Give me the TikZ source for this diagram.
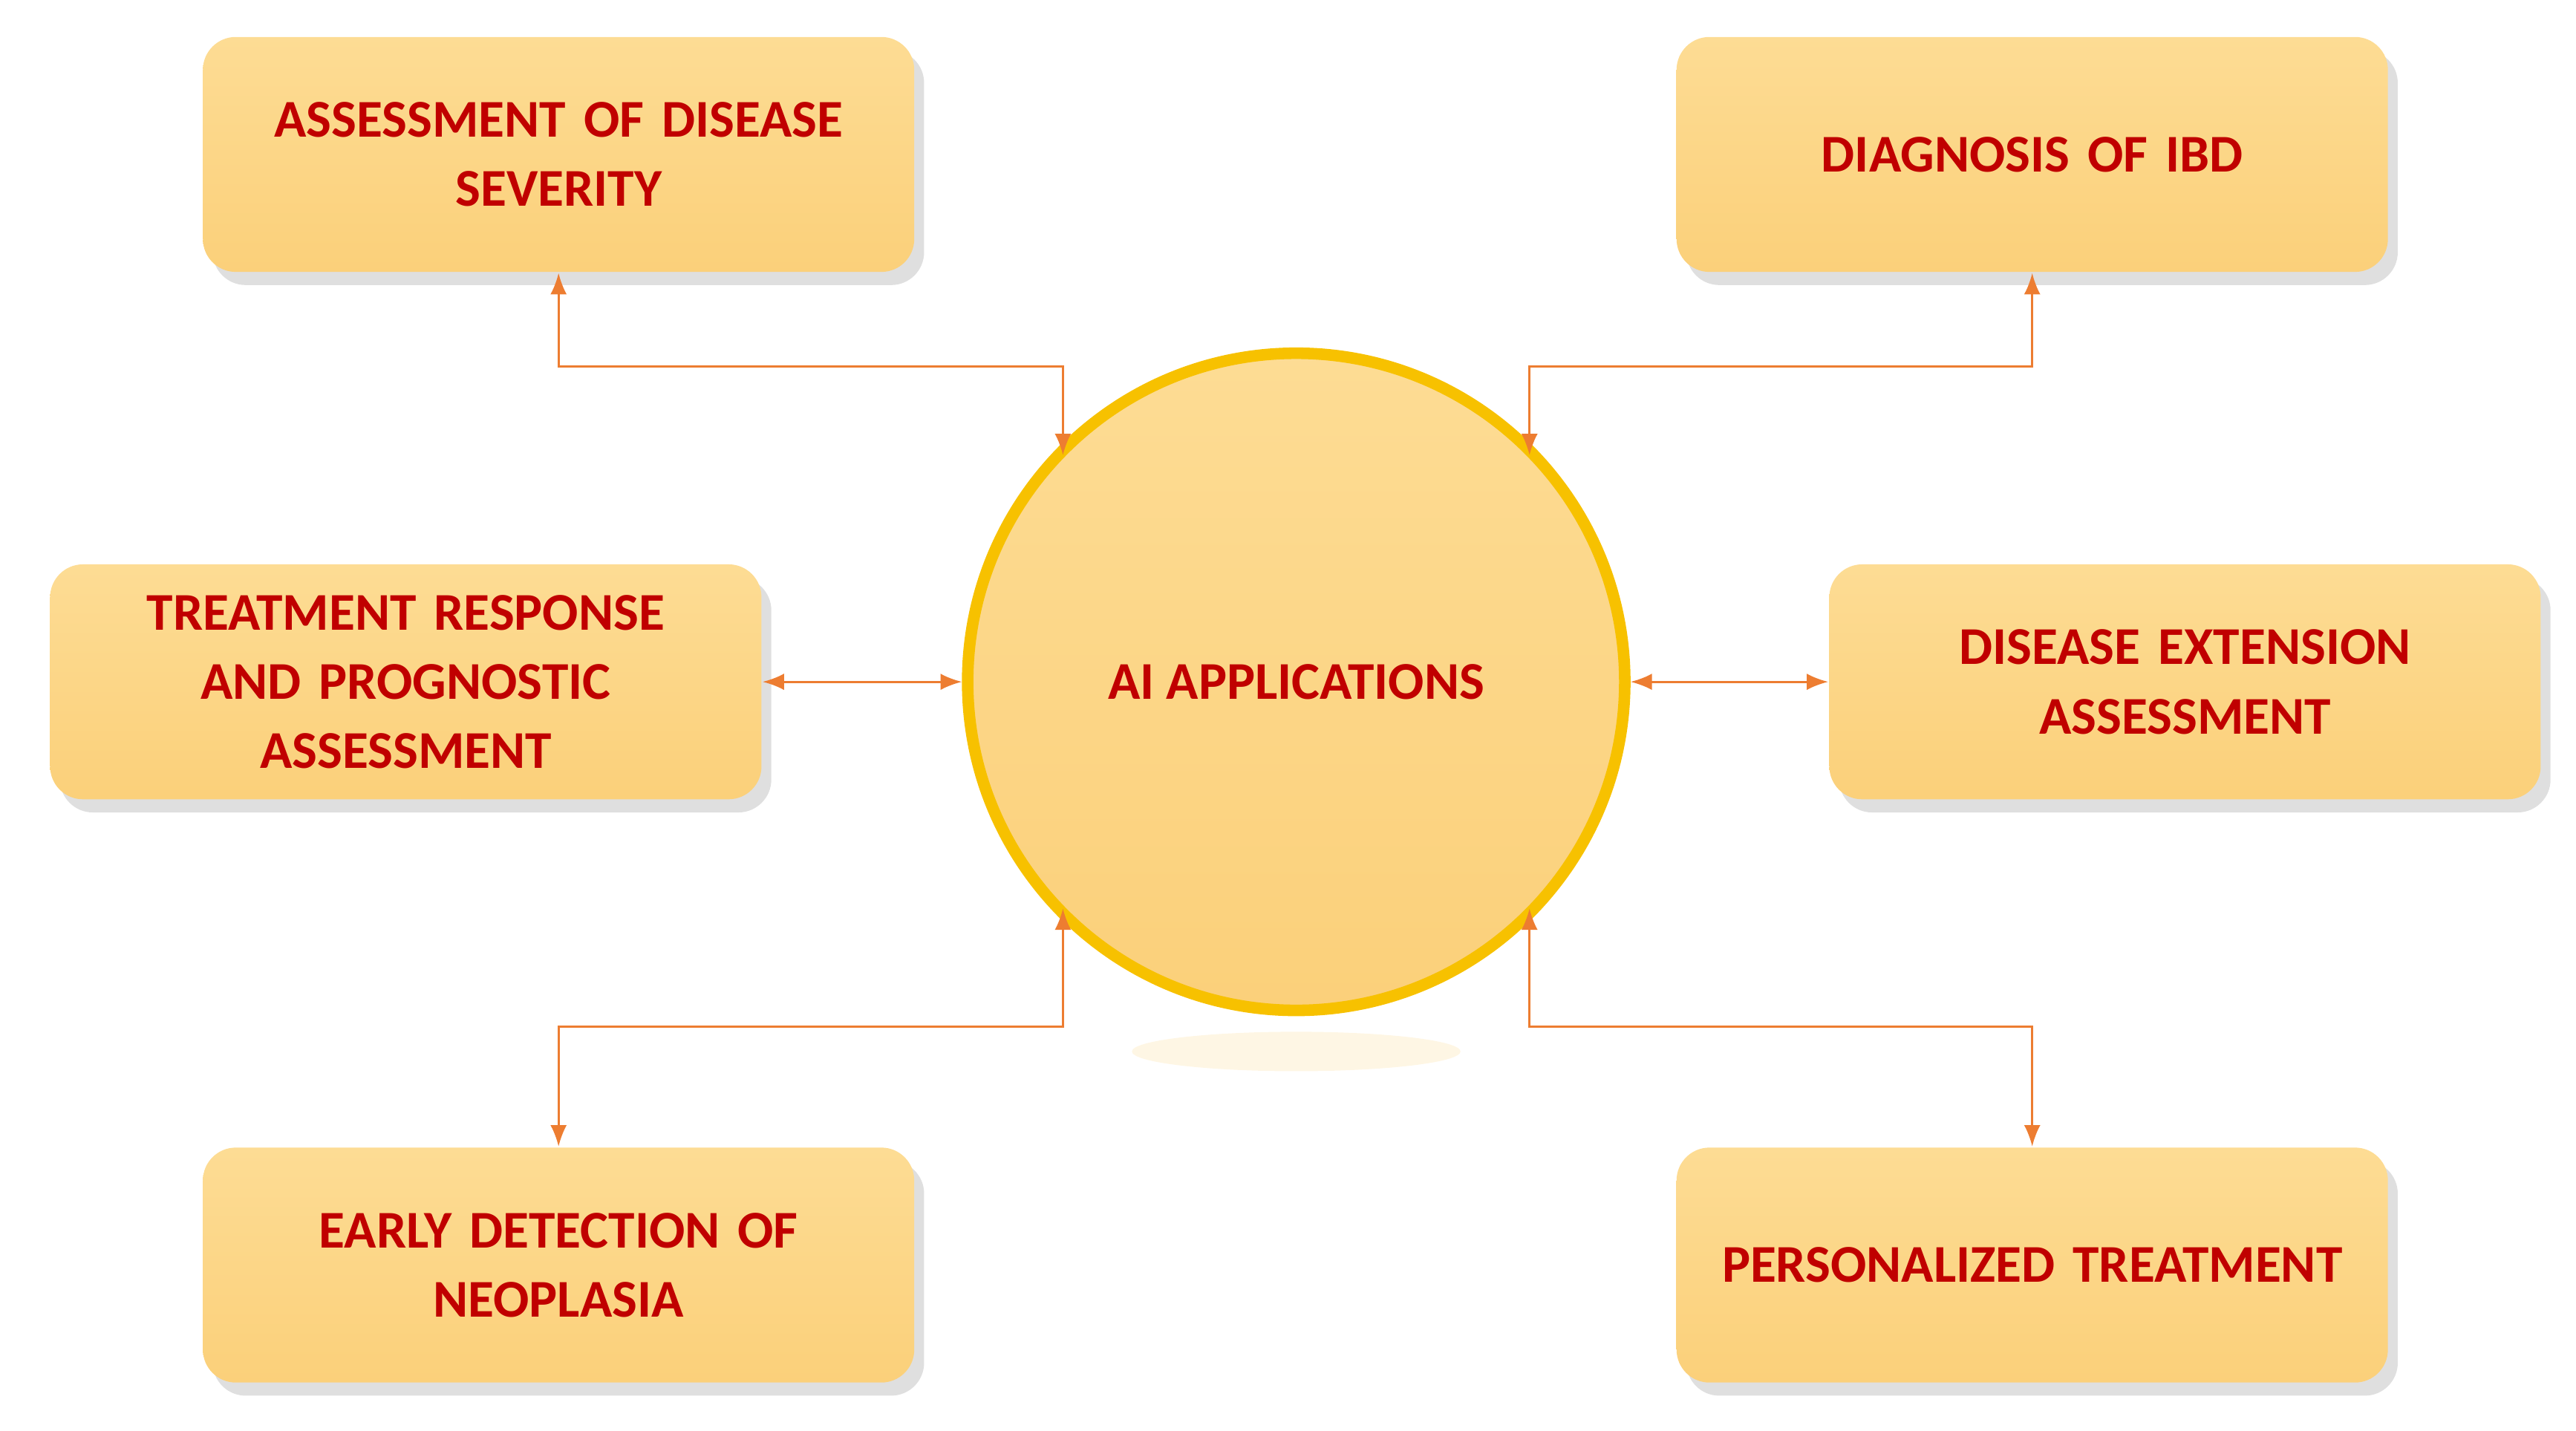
\documentclass[tikz,border=0pt]{standalone}
\usepackage{fontspec}
\setmainfont{Carlito}
\usetikzlibrary{shadows,arrows.meta}
\definecolor{txt}{HTML}{C00000}
\definecolor{fillA}{HTML}{FDDC94}
\definecolor{fillB}{HTML}{FBD07A}
\definecolor{gold}{HTML}{F7C100}
\definecolor{arr}{HTML}{ED7D31}
\tikzset{
  box/.style={rounded corners=2mm, minimum width=43.3mm, minimum height=14.3mm, top color=fillA, bottom color=fillB,
    drop shadow={shadow xshift=0.6mm, shadow yshift=-0.8mm, opacity=0.25, fill=gray},
    text=txt, font=\bfseries\fontsize{9.2}{12}\selectfont, align=center, text width=40mm},
  conn/.style={draw=arr, line width=0.35pt, {Latex[length=1.3mm,width=1mm]}-{Latex[length=1.3mm,width=1mm]}}
}
\begin{document}
\begin{tikzpicture}[x=0.1mm,y=-0.1mm]
\useasboundingbox (0,0) rectangle (1568,871);
\node[box] (tl) at (340,94) {ASSESSMENT OF DISEASE\\SEVERITY};
\node[box] (tr) at (1237,94) {DIAGNOSIS OF IBD};
\node[box] (ml) at (247,415) {TREATMENT RESPONSE\\AND PROGNOSTIC\\ASSESSMENT};
\node[box] (mr) at (1330,415) {DISEASE EXTENSION\\ASSESSMENT};
\node[box] (bl) at (340,770) {EARLY DETECTION OF\\NEOPLASIA};
\node[box] (br) at (1237,770) {PERSONALIZED TREATMENT};
\fill[fillA!50, opacity=0.5] (789,640) ellipse (100 and 12);
\node[circle, minimum size=40mm, draw=gold, line width=2pt, top color=fillA, bottom color=fillB,
  text=txt, font=\bfseries\fontsize{9.2}{12}\selectfont] (c) at (789,415) {AI APPLICATIONS};
\coordinate (c1) at (647,277);
\coordinate (c2) at (931,277);
\coordinate (c3) at (647,553);
\coordinate (c4) at (931,553);
\draw[conn] (tl.south) |- (647,223) -- (c1);
\draw[conn] (tr.south) |- (931,223) -- (c2);
\draw[conn] (bl.north) |- (647,625) -- (c3);
\draw[conn] (br.north) |- (931,625) -- (c4);
\draw[conn] (ml.east) -- (c.west);
\draw[conn] (mr.west) -- (c.east);
\end{tikzpicture}
\end{document}
